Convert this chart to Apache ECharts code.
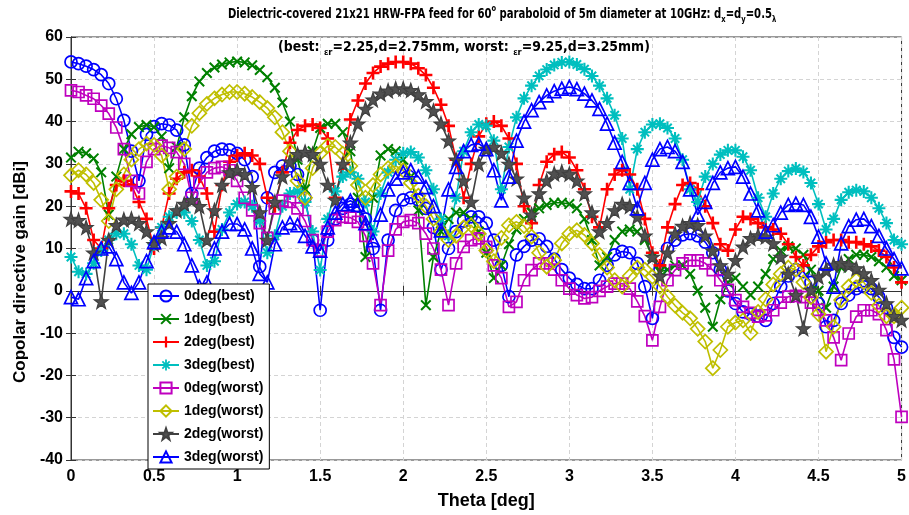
<!DOCTYPE html>
<html><head><meta charset="utf-8">
<script src="https://cdn.jsdelivr.net/npm/echarts@6/dist/echarts.min.js"></script>
<style>html,body{margin:0;padding:0;background:#fff}#c{width:909px;height:515px}</style>
</head><body><div id="c"></div>
<script>
// Sampling grid: 111 points from 0 to 5 deg
const theta = Array.from({length: 111}, (_, i) => i * 5 / 110);

const best0 = [54.1,53.7,53.1,52.3,51.1,49,45.4,40.3,33,26,
 37,38.8,39.5,39.2,38,34.5,23,29,31.5,33,
 33.5,33.3,32.5,31,27,5.7,22,28,29.5,29.5,
 27.5,22,12,-4.6,12,17,19.5,20.5,20,17,
 10,-4.6,12,19,21.5,22,21.5,19.5,15,5,
 10,14,16.5,17.5,17.5,16,12,6,-1.4,8.5,
 10.5,12,12.3,10.5,7.5,5,3,1.5,0.5,0.5,
 2.5,6,8.5,9.3,9,6.5,1,-6.5,5,10,
 12,13.2,13.5,13,11.5,9,5,0,-3,-5,
 -5.5,-6,-7,-3,1,3.5,5,4.5,2,-3,
 -8.5,-7,-3,-1,0.5,1,0.5,-1.5,-4,-11,-13.3];

const best1 = [31.5,32.9,32.5,31.3,28,18,27,33.5,37,38.7,
 39.2,38.7,36.5,29,34,41,46,49.5,51.5,52.8,
 53.5,54,54.2,54,53.3,52.2,50.5,48,44.5,40,
 31,24,33,38.5,39.5,39.5,37.5,33,22,8,
 22,32,33.5,33,31,27,19,-3.4,8,14,
 17,18.5,18.5,17,14,9,3,6,11,14.5,
 17,18.5,19.5,20.3,20.8,20.8,20.5,19.5,17,12,
 6,8,12,14,14.5,14,12,8,4.5,5,
 6,6,4,0,-4,-8.5,-2,2,3,1,
 -1,1,4,7.5,9.5,10.5,10,8.5,5,0,
 -4,1,5.5,7.5,8.5,8.5,8,7,5.5,3.5,2.5];

const best2 = [23.5,23,19.5,12,10,19.5,25,26,25,21,
 17,10,15,23,26.5,28,28.5,27,23,14,
 25,30.5,32,32.5,32,30,22,20,28,35,
 38,39,39.3,38.5,36,22,30,40.5,45,49,
 51.5,53,53.7,54.1,54.1,53.7,52.6,51,48,44,
 39,31,22,30,36.5,39.5,40,39,36,30,
 20,16,25,30.5,32.3,32.8,31.5,28.5,24,17.5,
 15,24,27.5,28.5,27.5,24,17,9,6,15,
 20.5,25,25.5,24,20,16,11,9.5,14.5,17.5,
 17,16,15,14.5,13.5,11,8,6,8.5,10.5,
 11.5,12,12,11.5,11.5,11,10.5,9.5,8,5.5,2];

const best3 = [8,4.5,4,6.5,9.5,12,13.5,13.5,11,6,
 5,11,15,17.5,18.5,18.5,16.5,12,6,7,
 14.5,18.5,20.5,21,20,16.5,9,13,20,23,
 23.5,21,14,4.9,17,23.5,27,28,26.5,21,
 14,23,28,31,32.5,32.8,31.5,28.5,24,17,
 13,22,33,37.5,39.3,39,35.5,24,34,41,
 45.5,48.5,50.8,52.3,53.4,54,54.1,53.5,52.4,50.8,
 48.5,45.5,41.5,36,24,33.5,37.5,39.3,39.5,38.5,
 36,31,24,21,27,30,32.2,33.2,33.2,31.7,
 28.5,22,17.5,23,26.5,28.3,28.9,28.1,25.5,20.5,
 14.5,17,21.5,23.3,23.8,23.5,22,19.5,16,12,11];

const worst0 = [47.4,47,46.2,45.4,43.8,41.9,38.6,33.5,26,23,
 30.5,33.5,34.3,33.8,32.8,30,22,25.5,28,29,
 29.3,28.5,26,22,19,16,12.5,19.5,21.3,21,
 19.5,16.5,12,9.5,14,16.7,17.5,17.3,16.3,13,
 6.5,-3.4,9.5,14.5,16.3,16.7,16,13.5,10,5,
 -3.4,6.5,10.4,12,12.4,10.4,6,3,-3.8,-2.6,
 2.5,4.9,6.5,6.5,5,2.5,0.5,-1,-1.8,-1.5,
 0,1,1.7,1.7,0.5,-2.5,-6,-11.7,-3.8,2.5,
 4.9,6.5,7.2,7.2,6.5,4.9,2.5,0.2,-2.2,-3.8,
 -5.2,-6.1,-5.8,-4.6,-2.8,-1.4,-1.2,-1.5,-2.8,-4.5,
 -7,-11,-16.4,-10.1,-6.1,-4.6,-4.6,-5.5,-9.3,-16.2,-29.8];

const worst1 = [27.3,28.5,27.5,25.5,21.5,16.5,24,27.5,31,33.5,
 34.8,34.5,32,24,27,33.5,39,42,44.2,45.5,
 46.4,47,47,46.6,45.8,44.6,43.2,41,37.5,33,
 26,22,29,32.5,34.3,34,32.4,29.5,25,22,
 25,27.5,29,29.5,28.5,25.5,22.5,20,17,14,
 12,13,15,15.5,13.5,9.5,7,12.5,15.5,16.3,
 15.3,12.8,9,5.7,7.2,11.2,13.5,14.3,13.2,11.2,
 8.5,5.5,2.5,1,3.5,5.5,5,3.3,1,-1.4,
 -3.5,-5.2,-6.5,-9,-12,-18.3,-14,-8.5,-7.5,-7,
 -10,-5,-2,1.5,4,5.5,5,2,-1.5,-5.5,
 -14.4,-8.5,-2.2,1,2.5,2,-0.5,-3.5,-6,-6,-4];

const worst2 = [17,16.7,15,9,-2.5,12,15.5,16.8,17,16,
 14,11,12.5,16,19,20.5,21.4,20,12,19,
 25,28,28.5,27.5,24.5,18.5,12,21,27,30.5,
 32.3,32.8,32.3,30,25,21.5,30,35,39.5,43,
 45.2,46.6,47.3,47.8,47.8,47.4,46.4,44.8,42.5,39.5,
 35.5,31,26,21,30,33.5,34,32.5,30,26.5,
 22,18,23,26,27.7,28.1,27.6,26,23,18.5,
 14,16,19,20.5,20,17.5,13,8,3.5,9,
 13.5,15.3,16,15.5,13,9.5,6,4,7.2,10.4,
 12.4,13.1,12.8,11.2,8,4,-1,-8.9,0.2,3.3,
 4.9,6.1,6.5,6.1,5.3,4.1,2.5,0.2,-3,-6,-6.9];

const worst3 = [-1.5,-2,3,7,10,10.5,7.5,2,-0.5,2,
 7,11.5,14,15,14,11,6,1,2,10,
 14,15.8,15.8,14.5,10,4,2,11,15,16,
 15.5,13,10.5,9.5,15,18.5,20.5,21.3,20.3,16,
 12,18,24,26.5,28,28.5,27,24.5,20,14.3,
 24,29.3,33,34.5,34.8,33.5,28.5,21.4,27,35.5,
 40,42.7,44.6,46.2,47.2,47.8,48.2,47.7,46.6,45,
 43,39.5,35,30.5,25.5,19.5,25.5,31,33.5,34,
 33,30.5,24,18,21,25.5,28,29,29.3,27,
 23,19,14,15.5,18.5,20.3,20.6,20.3,17.5,12.8,
 6.5,1,11.2,15.3,16.8,17,15.3,13,10,7.5,5.3];

const seriesNames = ['0deg(best)','1deg(best)','2deg(best)','3deg(best)','0deg(worst)','1deg(worst)','2deg(worst)','3deg(worst)'];
const xTicks = {min: 0, max: 5, step: 0.5};
const yTicks = {min: -40, max: 60, step: 10};

const PLUS = 'path://M4,0H6V4H10V6H6V10H4V6H0V4H4Z';
const XMK = 'path://M0,1.3L1.3,0L10,8.7L8.7,10Z M8.7,0L10,1.3L1.3,10L0,8.7Z';
const AST = 'path://M4.2,0H5.8V4.2H10V5.8H5.8V10H4.2V5.8H0V4.2H4.2Z M1.2,2.3L2.3,1.2L8.8,7.7L7.7,8.8Z M7.7,1.2L8.8,2.3L2.3,8.8L1.2,7.7Z';
const STAR = 'path://M5,0L6.18,3.38L9.76,3.45L6.9,5.62L7.94,9.05L5,7L2.06,9.05L3.1,5.62L0.24,3.45L3.82,3.38Z';

const FN = '"Liberation Sans", Arial, sans-serif';
const FNN = '"Liberation Sans Narrow", "Arial Narrow", "DejaVu Sans Condensed", sans-serif';

function mk(name, vals, color, symbol, size, mode) {
  let itemStyle;
  if (mode === 'fill') itemStyle = {color: color, borderWidth: 0};
  else if (mode === 'star') itemStyle = {color: '#505050', borderColor: color, borderWidth: 1.2};
  else itemStyle = {color: 'rgba(255,255,255,0)', borderColor: color, borderWidth: 1.7};
  return {
    name: name, type: 'line',
    data: theta.map((t, i) => [t, vals[i]]),
    symbol: symbol, symbolSize: size,
    showSymbol: true, showAllSymbol: true,
    lineStyle: {color: color, width: 1.6},
    itemStyle: itemStyle,
    emphasis: {disabled: true},
    animation: false, clip: true
  };
}

const series = [
  mk(seriesNames[0], best0, '#0000ff', 'circle', 12, 'hollow'),
  mk(seriesNames[1], best1, '#008000', XMK, 11, 'fill'),
  mk(seriesNames[2], best2, '#ff0000', PLUS, 13, 'fill'),
  mk(seriesNames[3], best3, '#00bfbf', AST, 13, 'fill'),
  mk(seriesNames[4], worst0, '#bf00bf', 'rect', 11, 'hollow'),
  mk(seriesNames[5], worst1, '#bfbf00', 'diamond', 14, 'hollow'),
  mk(seriesNames[6], worst2, '#404040', STAR, 14, 'star'),
  mk(seriesNames[7], worst3, '#0000ff', 'triangle', 13, 'hollow')
];

const chart = echarts.init(document.getElementById('c'), null, {renderer: 'canvas'});
const tickLbl = {fontSize: 16, fontWeight: 'bold', color: '#000', fontFamily: FN};
const gridLine = {show: true, lineStyle: {color: '#d4d4d4', type: [4, 3], width: 1}};
const richMain = {fontSize: 13.5, fontWeight: 'bold', fontFamily: FNN, fill: '#000', lineHeight: 20};
const richSmall = {fontSize: 9, fontWeight: 'bold', fontFamily: FNN, fill: '#000', lineHeight: 10};
chart.setOption({
  animation: false,
  backgroundColor: '#fff',
  graphic: [{
    type: 'text', x: 228, y: 4, scaleX: 0.83, z: 10,
    style: {
      text: '{a|Dielectric-covered 21x21 HRW-FPA feed for 60}{sp|o}{a| paraboloid of 5m diameter at 10GHz: d}{sb|x}{a|=d}{sb|y}{a|=0.5}{sb|λ}',
      rich: {
        a: richMain,
        sp: Object.assign({}, richSmall, {verticalAlign: 'top'}),
        sb: Object.assign({}, richSmall, {verticalAlign: 'bottom'})
      }
    }
  }, {
    type: 'text', x: 278, y: 37, scaleX: 1.03, z: 10,
    style: {
      text: '{a|(best: }{e|ε}{sb|r}{a|=2.25,d=2.75mm, worst: }{e|ε}{sb|r}{a|=9.25,d=3.25mm)}',
      rich: {
        a: richMain,
        e: {fontSize: 9, fontWeight: 'bold', fontFamily: FN, fill: '#000', lineHeight: 12, verticalAlign: 'bottom'},
        sb: {fontSize: 9, fontWeight: 'bold', fontFamily: FNN, fill: '#000', lineHeight: 8, verticalAlign: 'bottom'}
      }
    }
  }, {
    type: 'text', x: 20, y: 272, rotation: Math.PI / 2, z: 10,
    style: {
      text: 'Copolar directive gain [dBi]', fill: '#000',
      font: 'bold 17px "Liberation Sans", Arial, sans-serif',
      align: 'center', verticalAlign: 'middle'
    }
  }],
  legend: {
    data: seriesNames,
    orient: 'vertical', left: 148, top: 284,
    backgroundColor: '#fff', borderColor: '#000', borderWidth: 1,
    padding: [5, 6, 5, 4], itemGap: 9, itemWidth: 26, itemHeight: 14,
    textStyle: {fontSize: 14, fontWeight: 'bold', color: '#000', fontFamily: FN},
    selectedMode: false
  },
  grid: {left: 71, right: 7, top: 37, bottom: 55, show: true, borderColor: '#333', borderWidth: 1, containLabel: false},
  xAxis: [{
    type: 'value', min: xTicks.min, max: xTicks.max, interval: xTicks.step,
    name: 'Theta [deg]', nameLocation: 'middle', nameGap: 32,
    nameTextStyle: {fontSize: 18, fontWeight: 'bold', color: '#000', fontFamily: FN},
    axisLine: {show: true, lineStyle: {color: '#333'}},
    axisTick: {show: true, inside: true, length: 5, lineStyle: {color: '#333'}},
    axisLabel: Object.assign({margin: 9}, tickLbl),
    splitLine: gridLine
  }, {
    type: 'value', position: 'top', min: xTicks.min, max: xTicks.max, interval: xTicks.step,
    axisLine: {show: true, lineStyle: {color: '#333'}},
    axisTick: {show: true, inside: true, length: 5, lineStyle: {color: '#333'}},
    axisLabel: {show: false}, splitLine: {show: false}
  }],
  yAxis: [{
    type: 'value', min: yTicks.min, max: yTicks.max, interval: yTicks.step,
    axisLine: {show: true, lineStyle: {color: '#333'}},
    axisTick: {show: true, inside: true, length: 5, lineStyle: {color: '#333'}},
    axisLabel: Object.assign({margin: 8}, tickLbl),
    splitLine: gridLine
  }, {
    type: 'value', position: 'right', min: yTicks.min, max: yTicks.max, interval: yTicks.step,
    axisLine: {show: true, lineStyle: {color: '#333'}},
    axisTick: {show: true, inside: true, length: 5, lineStyle: {color: '#333'}},
    axisLabel: {show: false}, splitLine: {show: false}
  }],
  series: series
});
</script></body></html>
